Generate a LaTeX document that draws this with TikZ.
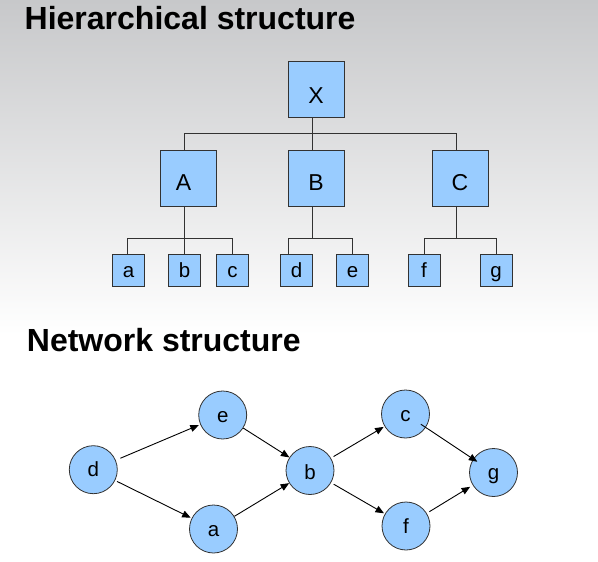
\documentclass[tikz,border=0pt]{standalone}
\usepackage{fontspec}
\setmainfont{Liberation Sans}
\usetikzlibrary{arrows.meta,calc}
\definecolor{boxblue}{RGB}{153,204,255}
\definecolor{edgegray}{RGB}{50,50,50}
\definecolor{bgtop}{RGB}{199,200,202}
\begin{document}
\begin{tikzpicture}[x=1pt,y=-1pt,
  hbox/.style={draw=edgegray,line width=0.8pt,fill=boxblue,inner sep=0pt,
    minimum width=56pt,minimum height=56pt,font=\fontsize{23}{23}\selectfont,
    text height=24pt,text depth=0pt},
  leafbox/.style={draw=edgegray,line width=0.8pt,fill=boxblue,inner sep=0pt,
    minimum width=32pt,minimum height=32pt,font=\fontsize{20.5}{20.5}\selectfont,
    text height=15pt,text depth=0pt},
  netnode/.style={circle,draw=edgegray,line width=0.8pt,fill=boxblue,inner sep=0pt,
    minimum size=48pt,font=\fontsize{20.5}{20.5}\selectfont,
    text height=14pt,text depth=0pt},
  conn/.style={draw=edgegray,line width=0.9pt},
  arr/.style={draw=black,line width=0.9pt,-{Triangle[length=8.5pt,width=7pt]},
    shorten <=2pt,shorten >=1pt},
  title/.style={font=\bfseries\fontsize{32}{32}\selectfont,anchor=base west,inner sep=0pt}
]
\useasboundingbox (0,0) rectangle (598,562);
\fill[white] (0,0) rectangle (598,562);
\shade[top color=bgtop,bottom color=white] (0,0) rectangle (598,335);

% titles
\node[title] (t1) at (24.5,30) {Hierarchical structure};
\node[title] (t2) at (26.7,351.7) {Network structure};

% hierarchy
\node[hbox,text height=27pt] (X) at (316,89.5) {X};
\node[hbox] (A) at (188,178) {A\kern9pt};
\node[hbox] (B) at (316,178) {B};
\node[hbox] (C) at (460,178) {C};
\node[leafbox] (la) at (128.5,270) {a};
\node[leafbox] (lb) at (184.5,270) {b};
\node[leafbox] (lc) at (232.5,270) {c};
\node[leafbox] (ld) at (296.5,270) {d};
\node[leafbox] (le) at (352.5,270) {e};
\node[leafbox] (lf) at (424,270) {f};
\node[leafbox] (lg) at (496,270) {g};

\draw[conn] ([xshift=-4pt]X.south) -- ++(0,16) coordinate (hb);
\draw[conn] ([xshift=-4pt]A.north) |- (hb);
\draw[conn] ([xshift=-4pt]B.north) -- (hb);
\draw[conn] ([xshift=-4pt]C.north) |- (hb);

\draw[conn] ([xshift=-4pt]A.south) -- ++(0,32) coordinate (ab);
\draw[conn] ([xshift=-1pt]la.north) |- (ab);
\draw[conn] (lb.north) -- (lb.north |- ab);
\draw[conn] (lc.north) |- (ab);

\draw[conn] ([xshift=-4pt]B.south) -- ++(0,32) coordinate (bb);
\draw[conn] ([xshift=-8.5pt]ld.north) |- (bb);
\draw[conn] (le.north) |- (bb);

\draw[conn] ([xshift=-4pt]C.south) -- ++(0,32) coordinate (cb);
\draw[conn] (lf.north) |- (cb);
\draw[conn] (lg.north) |- (cb);

% network
\node[netnode] (d) at (93.3,469.7) {d};
\node[netnode] (e) at (222.7,415) {e};
\node[netnode] (a) at (213.5,529) {a};
\node[netnode,text height=18pt] (b) at (310,470.5) {b};
\node[netnode] (c) at (405.5,414) {c};
\node[netnode] (f) at (406,526) {f};
\node[netnode] (g) at (493.5,472.5) {g};

\draw[arr,shorten <=5pt,shorten >=1.5pt] (d) -- (e);
\draw[arr,shorten <=2pt] (d) -- (a);
\draw[arr,shorten <=0pt,shorten >=0pt] (e) -- (b);
\draw[arr,shorten <=0pt,shorten >=0pt] (a) -- (b);
\draw[arr,shorten <=3pt] (b) -- (c);
\draw[arr,shorten <=3pt] (b) -- (f);
\draw[arr,shorten <=-6pt,shorten >=-5pt] (c) -- (g);
\draw[arr,shorten <=3pt,shorten >=3pt] (f) -- (g);
\end{tikzpicture}
\end{document}
